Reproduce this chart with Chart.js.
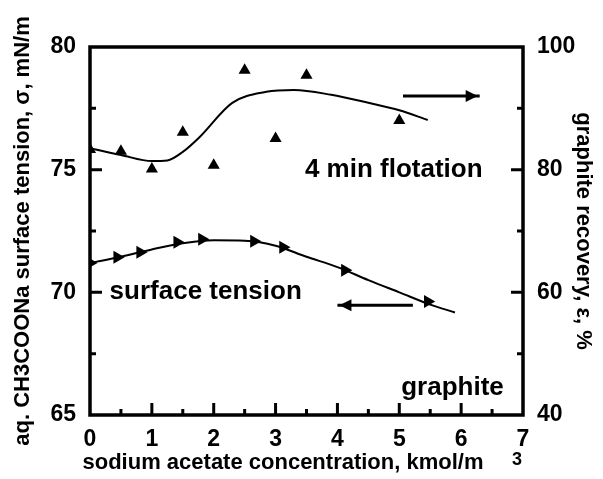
<!DOCTYPE html>
<html>
<head>
<meta charset="utf-8">
<script src="https://cdn.jsdelivr.net/npm/chart.js@4.4.0/dist/chart.umd.min.js"></script>
<style>
  body { margin: 0; background: #fff; }
  canvas { display: block; }
</style>
</head>
<body>
<canvas id="chart" width="603" height="479"></canvas>
<script>
// measured points: 4 min flotation recovery (right axis, %)
const flotConc = [0, 0.5, 1, 1.5, 2, 2.5, 3, 3.5, 5];
const flotRecovery = [83.3, 83.0, 80.1, 86.1, 80.7, 96.2, 85.1, 95.4, 88.0];
// fitted curve through the flotation points
const flotCurveConc = [0, 0.5, 1, 1.25, 1.5, 1.77, 2.3, 2.85, 3.3, 3.9, 4.5, 5, 5.46];
const flotCurveVal = [83.5, 82.4, 81.4, 81.5, 82.9, 85.3, 90.9, 92.7, 93.0, 92.2, 90.9, 89.7, 88.1];

// measured points: surface tension (left axis, mN/m)
const stConc = [0, 0.44, 0.81, 1.41, 1.81, 2.65, 3.12, 4.12, 5.46];
const stTension = [71.2, 71.43, 71.63, 72.04, 72.16, 72.08, 71.84, 70.9, 69.63];
// fitted curve through the surface tension points
const stCurveConc = [0, 0.5, 1, 1.5, 2, 2.5, 3, 3.5, 4, 4.5, 5, 5.5, 5.9];
const stCurveVal = [71.2, 71.45, 71.75, 72.0, 72.12, 72.1, 71.9, 71.45, 71.03, 70.5, 70.0, 69.5, 69.18];

const FONT = "Arial, 'Liberation Sans', Helvetica, sans-serif";

const toXY = (xs, ys) => xs.map((x, i) => ({ x: x, y: ys[i] }));

function arrow(ctx, x1, x2, y, headAtEnd) {
  ctx.beginPath();
  ctx.moveTo(x1, y);
  ctx.lineTo(x2, y);
  ctx.stroke();
  const tip = headAtEnd ? x2 : x1;
  const dir = headAtEnd ? -1 : 1;
  ctx.beginPath();
  ctx.moveTo(tip + dir * 2, y);
  ctx.lineTo(tip + dir * 14, y - 6);
  ctx.lineTo(tip + dir * 14, y + 6);
  ctx.closePath();
  ctx.fill();
}

const decor = {
  id: "decor",
  afterDraw(chart) {
    const ctx = chart.ctx;
    const a = chart.chartArea;
    const sx = chart.scales.x, yL = chart.scales.yL, yR = chart.scales.yR;
    ctx.save();
    ctx.strokeStyle = "#000";
    ctx.fillStyle = "#000";

    // frame
    ctx.lineWidth = 3.5;
    ctx.strokeRect(a.left, a.top, a.right - a.left, a.bottom - a.top);

    // inward tick marks
    ctx.lineWidth = 3;
    ctx.beginPath();
    for (let v = 0.5; v < 7; v += 0.5) {
      const px = sx.getPixelForValue(v);
      const len = v % 1 === 0 ? 12 : 6;
      ctx.moveTo(px, a.bottom);
      ctx.lineTo(px, a.bottom - len);
    }
    for (let v = 67.5; v < 80; v += 2.5) {
      const py = yL.getPixelForValue(v);
      const len = v % 5 === 0 ? 12 : 6;
      ctx.moveTo(a.left, py);
      ctx.lineTo(a.left + len, py);
    }
    for (let v = 50; v < 100; v += 10) {
      const py = yR.getPixelForValue(v);
      const len = v % 20 === 0 ? 12 : 6;
      ctx.moveTo(a.right, py);
      ctx.lineTo(a.right - len, py);
    }
    ctx.stroke();

    // arrows pointing to the relevant axis
    ctx.lineWidth = 3;
    arrow(ctx, sx.getPixelForValue(5.06), sx.getPixelForValue(6.3), yR.getPixelForValue(92), true);
    arrow(ctx, sx.getPixelForValue(4.0), sx.getPixelForValue(5.22), yL.getPixelForValue(69.47), false);

    // in-plot labels
    ctx.font = "bold 26px " + FONT;
    ctx.textAlign = "center";
    ctx.textBaseline = "alphabetic";
    ctx.fillText("4 min flotation", sx.getPixelForValue(4.91), yL.getPixelForValue(74.69));
    ctx.fillText("surface tension", sx.getPixelForValue(1.87), yL.getPixelForValue(69.71));
    ctx.fillText("graphite", sx.getPixelForValue(5.86), yL.getPixelForValue(65.8));

    // x axis title with the unit exponent set apart
    ctx.font = "bold 22px " + FONT;
    ctx.textBaseline = "middle";
    ctx.fillText("sodium acetate concentration, kmol/m", a.left + 193, 463);
    ctx.font = "bold 18px " + FONT;
    ctx.fillText("3", a.right - 6, 460);
    ctx.restore();
  }
};

new Chart(document.getElementById("chart"), {
  type: "scatter",
  data: {
    datasets: [
      {
        data: toXY(flotConc, flotRecovery),
        yAxisID: "yR",
        pointStyle: "triangle",
        pointRadius: 7,
        backgroundColor: "#000",
        borderColor: "#000",
        borderWidth: 0
      },
      {
        data: toXY(flotCurveConc, flotCurveVal),
        yAxisID: "yR",
        showLine: true,
        pointRadius: 0,
        borderColor: "#000",
        borderWidth: 2,
        cubicInterpolationMode: "monotone"
      },
      {
        data: toXY(stConc, stTension),
        yAxisID: "yL",
        pointStyle: "triangle",
        rotation: 90,
        pointRadius: 7.5,
        backgroundColor: "#000",
        borderColor: "#000",
        borderWidth: 0
      },
      {
        data: toXY(stCurveConc, stCurveVal),
        yAxisID: "yL",
        showLine: true,
        pointRadius: 0,
        borderColor: "#000",
        borderWidth: 2,
        cubicInterpolationMode: "monotone"
      }
    ]
  },
  options: {
    responsive: false,
    animation: false,
    devicePixelRatio: 1,
    layout: { padding: { top: 47, left: 0, right: 0, bottom: 0 } },
    plugins: {
      legend: { display: false },
      tooltip: { enabled: false }
    },
    scales: {
      x: {
        type: "linear",
        min: 0,
        max: 7,
        grid: { display: false, drawTicks: false },
        border: { display: false },
        ticks: { stepSize: 1, color: "#000", padding: 11, font: { family: FONT, size: 23, weight: "bold" } },
        title: { display: false },
        afterFit(s) { s.height = 64; }
      },
      yL: {
        position: "left",
        min: 65,
        max: 80,
        grid: { display: false, drawTicks: false },
        border: { display: false },
        ticks: { stepSize: 5, color: "#000", padding: 14, font: { family: FONT, size: 23, weight: "bold" } },
        title: {
          display: true,
          text: "aq. CH3COONa surface tension, σ, mN/m",
          color: "#000",
          font: { family: FONT, size: 22, weight: "bold" },
          padding: { top: 10, bottom: 0 }
        },
        afterFit(s) { s.width = 90; }
      },
      yR: {
        position: "right",
        min: 40,
        max: 100,
        grid: { display: false, drawTicks: false },
        border: { display: false },
        ticks: { stepSize: 20, color: "#000", padding: 14, font: { family: FONT, size: 23, weight: "bold" } },
        title: {
          display: true,
          text: "graphite recovery, ε, %",
          color: "#000",
          font: { family: FONT, size: 22, weight: "bold" },
          padding: { top: 7, bottom: 0 }
        },
        afterFit(s) { s.width = 80; }
      }
    }
  },
  plugins: [decor]
});
</script>
</body>
</html>
